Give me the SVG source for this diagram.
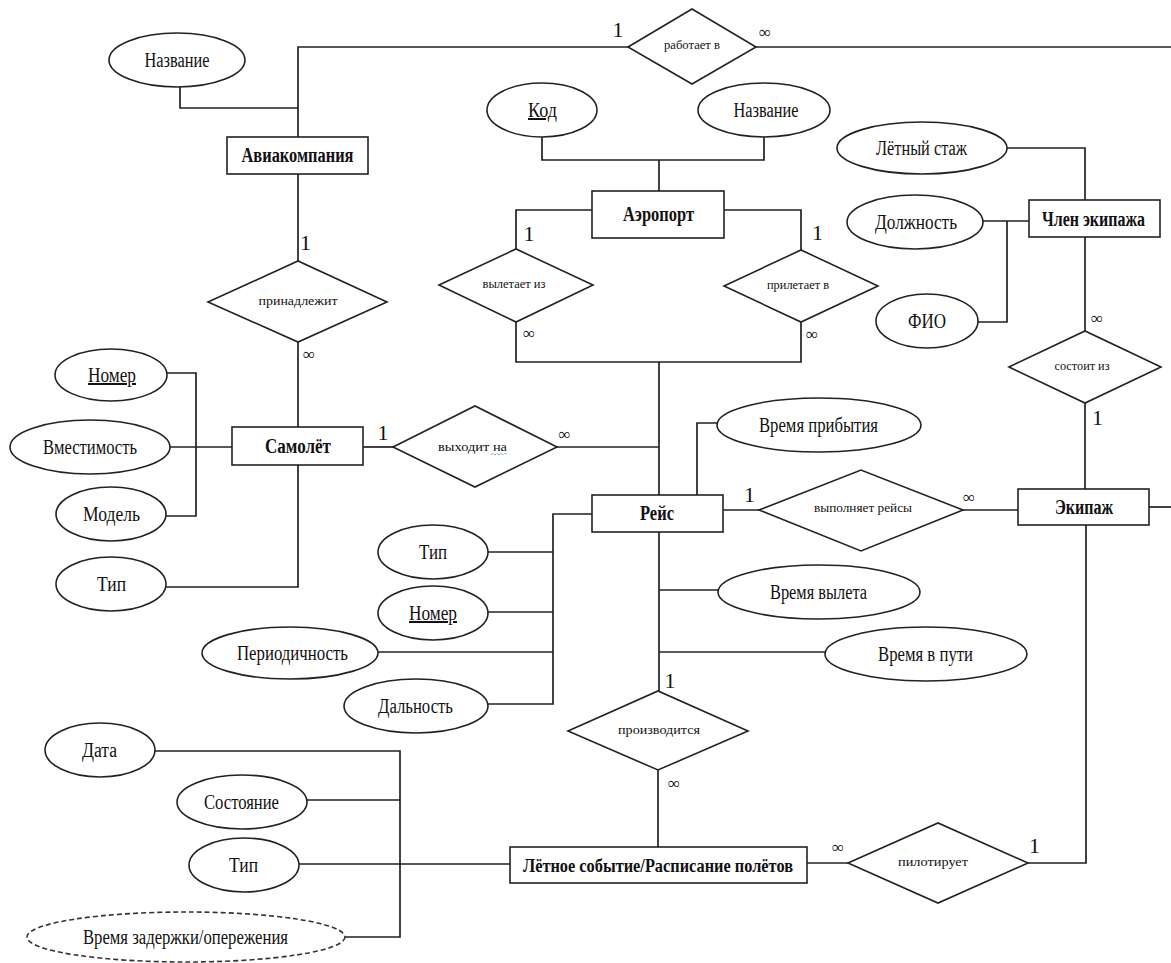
<svg xmlns="http://www.w3.org/2000/svg" width="1171" height="963" viewBox="0 0 1171 963">
<style>
.s{fill:#fff;stroke:#222;stroke-width:1.6}
.d{fill:#fff;stroke:#333;stroke-width:1.6;stroke-dasharray:5 3}
.c{fill:none;stroke:#222;stroke-width:1.7}
text{font-family:"Liberation Serif","Times New Roman",serif;fill:#111;text-anchor:middle}
.a{font-size:20px}
.e{font-size:20px;font-weight:bold}
.r{font-size:13px}
.u{text-decoration:underline}
.one{font-size:22px}
.inf{font-size:17px}
</style>
<rect width="1171" height="963" fill="#fff"/>
<g id="connectors">
<path class="c" d="M180,87 V108 H298"/>
<path class="c" d="M298,137 V47 H628"/>
<path class="c" d="M756,47 H1171"/>
<path class="c" d="M298,174 V261"/>
<path class="c" d="M298,342 V427"/>
<path class="c" d="M542,137 V160 H764 V137"/>
<path class="c" d="M659,160 V191"/>
<path class="c" d="M592,210 H516 V249"/>
<path class="c" d="M724,210 H801 V250"/>
<path class="c" d="M516,322 V362 H801 V322"/>
<path class="c" d="M659,362 V495"/>
<path class="c" d="M1007,148 H1085 V200"/>
<path class="c" d="M983,221 H1029"/>
<path class="c" d="M1007,221 V322 H978"/>
<path class="c" d="M1085,237 V331"/>
<path class="c" d="M1085,403 V489"/>
<path class="c" d="M1149,507 H1171"/>
<path class="c" d="M167,373 H196 V516 H166"/>
<path class="c" d="M170,447 H232"/>
<path class="c" d="M166,587 H298 V465"/>
<path class="c" d="M363,447 H393"/>
<path class="c" d="M557,447 H659"/>
<path class="c" d="M697,495 V423 H717"/>
<path class="c" d="M723,510 H759"/>
<path class="c" d="M963,510 H1018"/>
<path class="c" d="M592,514 H553 V704 H488"/>
<path class="c" d="M488,552 H553"/>
<path class="c" d="M488,612 H553"/>
<path class="c" d="M378,652 H553"/>
<path class="c" d="M659,532 V691"/>
<path class="c" d="M659,590 H718"/>
<path class="c" d="M659,652 H825"/>
<path class="c" d="M658,770 V847"/>
<path class="c" d="M807,863 H848"/>
<path class="c" d="M1028,863 H1086 V525"/>
<path class="c" d="M155,751 H400 V937 H345"/>
<path class="c" d="M307,800 H400"/>
<path class="c" d="M299,864 H510"/>
</g>
<g id="cardinalities">
<text class="one" x="618" y="37">1</text>
<text class="inf" x="765" y="38">∞</text>
<text class="one" x="305.5" y="250">1</text>
<text class="inf" x="309" y="360">∞</text>
<text class="one" x="529" y="241">1</text>
<text class="inf" x="529" y="339">∞</text>
<text class="one" x="817.5" y="240">1</text>
<text class="inf" x="812" y="340">∞</text>
<text class="inf" x="1097" y="324">∞</text>
<text class="one" x="1097.5" y="425">1</text>
<text class="one" x="383" y="440">1</text>
<text class="inf" x="564.5" y="440">∞</text>
<text class="one" x="749.5" y="502">1</text>
<text class="inf" x="969" y="503">∞</text>
<text class="one" x="670" y="688">1</text>
<text class="inf" x="674" y="789">∞</text>
<text class="inf" x="838" y="853">∞</text>
<text class="one" x="1034.5" y="853">1</text>
</g>
<g id="n-airline-name"><ellipse class="s" cx="177" cy="60" rx="68" ry="27"/><text class="a" x="177" y="67" textLength="65" lengthAdjust="spacingAndGlyphs">Название</text></g>
<g id="n-airline"><rect class="s" x="227" y="137" width="141" height="37"/><text class="e" x="297.5" y="162" textLength="112" lengthAdjust="spacingAndGlyphs">Авиакомпания</text></g>
<g id="r-works"><polygon class="s" points="628,47 692,9 756,47 692,84"/><text class="r" x="692" y="49" textLength="56" lengthAdjust="spacingAndGlyphs">работает в</text></g>
<g id="r-belongs"><polygon class="s" points="208,302 298,261 387,302 298,342"/><text class="r" x="298" y="305" textLength="79" lengthAdjust="spacingAndGlyphs">принадлежит</text></g>
<g id="n-code"><ellipse class="s" cx="542" cy="110" rx="55" ry="27"/><text class="a u" x="542.5" y="117" textLength="29" lengthAdjust="spacingAndGlyphs">Код</text></g>
<g id="n-airport-name"><ellipse class="s" cx="764" cy="110" rx="66" ry="27"/><text class="a" x="766" y="117" textLength="65" lengthAdjust="spacingAndGlyphs">Название</text></g>
<g id="n-airport"><rect class="s" x="592" y="191" width="132" height="47"/><text class="e" x="658.5" y="221" textLength="71" lengthAdjust="spacingAndGlyphs">Аэропорт</text></g>
<g id="r-departs"><polygon class="s" points="439,285 516,249 593,285 516,322"/><text class="r" x="514" y="288" textLength="63" lengthAdjust="spacingAndGlyphs">вылетает из</text></g>
<g id="r-arrives"><polygon class="s" points="724,286 801,250 878,286 801,322"/><text class="r" x="798" y="289" textLength="62" lengthAdjust="spacingAndGlyphs">прилетает в</text></g>
<g id="n-experience"><ellipse class="s" cx="922" cy="148" rx="85" ry="26"/><text class="a" x="921.5" y="155" textLength="91" lengthAdjust="spacingAndGlyphs">Лётный стаж</text></g>
<g id="n-crew-member"><rect class="s" x="1029" y="200" width="131" height="37"/><text class="e" x="1093.5" y="226" textLength="103" lengthAdjust="spacingAndGlyphs">Член экипажа</text></g>
<g id="n-position"><ellipse class="s" cx="915" cy="222" rx="68" ry="27"/><text class="a" x="916" y="229" textLength="82" lengthAdjust="spacingAndGlyphs">Должность</text></g>
<g id="n-fio"><ellipse class="s" cx="927" cy="321" rx="51" ry="27"/><text class="a" x="927" y="328" textLength="38" lengthAdjust="spacingAndGlyphs">ФИО</text></g>
<g id="r-consists"><polygon class="s" points="1009,367 1085,331 1161,367 1085,403"/><text class="r" x="1082" y="370" textLength="55" lengthAdjust="spacingAndGlyphs">состоит из</text></g>
<g id="n-crew"><rect class="s" x="1018" y="489" width="131" height="36"/><text class="e" x="1084" y="514" textLength="58" lengthAdjust="spacingAndGlyphs">Экипаж</text></g>
<g id="n-plane-number"><ellipse class="s" cx="111" cy="375" rx="56" ry="26"/><text class="a u" x="112" y="382" textLength="48" lengthAdjust="spacingAndGlyphs">Номер</text></g>
<g id="n-capacity"><ellipse class="s" cx="90" cy="447" rx="80" ry="27"/><text class="a" x="90" y="454" textLength="94" lengthAdjust="spacingAndGlyphs">Вместимость</text></g>
<g id="n-model"><ellipse class="s" cx="111" cy="514" rx="55" ry="27"/><text class="a" x="111.5" y="521" textLength="57" lengthAdjust="spacingAndGlyphs">Модель</text></g>
<g id="n-plane-type"><ellipse class="s" cx="111" cy="584" rx="55" ry="27"/><text class="a" x="111.5" y="591" textLength="29" lengthAdjust="spacingAndGlyphs">Тип</text></g>
<g id="n-plane"><rect class="s" x="232" y="427" width="131" height="38"/><text class="e" x="298" y="453" textLength="66" lengthAdjust="spacingAndGlyphs">Самолёт</text></g>
<g id="r-goes"><polygon class="s" points="393,447 475,406 557,447 475,487"/><text class="r" x="472.5" y="451" textLength="69" lengthAdjust="spacingAndGlyphs">выходит на</text><path d="M491,455 l2,-2 l2,2 l2,-2 l2,2 l2,-2 l2,2 l2,-2 l2,2" fill="none" stroke="#3a9a3a" stroke-width="1" stroke-dasharray="1 1"/></g>
<g id="n-flight"><rect class="s" x="592" y="495" width="131" height="37"/><text class="e" x="657" y="520" textLength="34" lengthAdjust="spacingAndGlyphs">Рейс</text></g>
<g id="n-arrival-time"><ellipse class="s" cx="819" cy="425" rx="102" ry="27"/><text class="a" x="818.5" y="432" textLength="119" lengthAdjust="spacingAndGlyphs">Время прибытия</text></g>
<g id="r-performs"><polygon class="s" points="759,510 861,470 963,510 861,551"/><text class="r" x="863" y="512" textLength="98" lengthAdjust="spacingAndGlyphs">выполняет рейсы</text></g>
<g id="n-flight-type"><ellipse class="s" cx="433" cy="552" rx="55" ry="27"/><text class="a" x="433" y="559" textLength="28" lengthAdjust="spacingAndGlyphs">Тип</text></g>
<g id="n-flight-number"><ellipse class="s" cx="433" cy="613" rx="55" ry="27"/><text class="a u" x="433" y="620" textLength="48" lengthAdjust="spacingAndGlyphs">Номер</text></g>
<g id="n-periodicity"><ellipse class="s" cx="290" cy="653" rx="88" ry="26"/><text class="a" x="292.5" y="660" textLength="111" lengthAdjust="spacingAndGlyphs">Периодичность</text></g>
<g id="n-range"><ellipse class="s" cx="416" cy="706" rx="72" ry="27"/><text class="a" x="415.5" y="713" textLength="75" lengthAdjust="spacingAndGlyphs">Дальность</text></g>
<g id="n-departure-time"><ellipse class="s" cx="819" cy="592" rx="101" ry="27"/><text class="a" x="818.5" y="599" textLength="97" lengthAdjust="spacingAndGlyphs">Время вылета</text></g>
<g id="n-travel-time"><ellipse class="s" cx="926" cy="654" rx="101" ry="27"/><text class="a" x="925.5" y="661" textLength="95" lengthAdjust="spacingAndGlyphs">Время в пути</text></g>
<g id="r-performed"><polygon class="s" points="568,731 658,691 748,731 658,770"/><text class="r" x="659" y="734" textLength="82" lengthAdjust="spacingAndGlyphs">производится</text></g>
<g id="n-event"><rect class="s" x="510" y="847" width="297" height="36"/><text class="e" x="658" y="872" style="font-size:18px" textLength="270" lengthAdjust="spacingAndGlyphs">Лётное событие/Расписание полётов</text></g>
<g id="r-pilots"><polygon class="s" points="848,863 938,823 1028,863 938,903"/><text class="r" x="933" y="866" textLength="70" lengthAdjust="spacingAndGlyphs">пилотирует</text></g>
<g id="n-date"><ellipse class="s" cx="100" cy="750" rx="55" ry="27"/><text class="a" x="99.5" y="757" textLength="35" lengthAdjust="spacingAndGlyphs">Дата</text></g>
<g id="n-state"><ellipse class="s" cx="242" cy="802" rx="65" ry="27"/><text class="a" x="241.5" y="809" textLength="75" lengthAdjust="spacingAndGlyphs">Состояние</text></g>
<g id="n-event-type"><ellipse class="s" cx="244" cy="865" rx="55" ry="27"/><text class="a" x="243.5" y="872" textLength="29" lengthAdjust="spacingAndGlyphs">Тип</text></g>
<g id="n-delay"><ellipse class="d" cx="186" cy="937" rx="159" ry="25"/><text class="a" x="185.5" y="944" textLength="205" lengthAdjust="spacingAndGlyphs">Время задержки/опережения</text></g>
</svg>
